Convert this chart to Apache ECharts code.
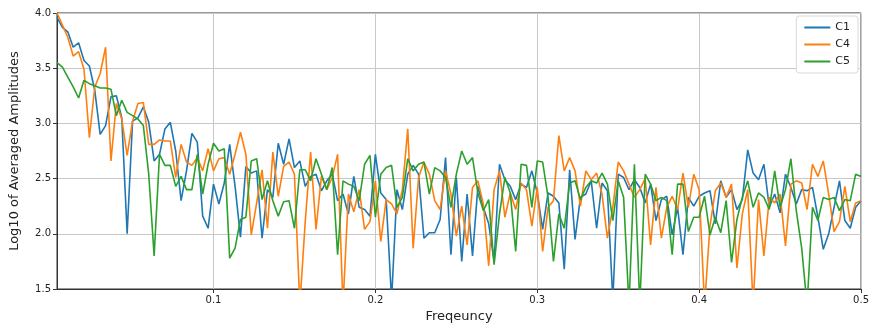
<!DOCTYPE html>
<html>
<head>
<meta charset="utf-8">
<title>Log10 of Averaged Amplitudes</title>
<script src="https://cdn.jsdelivr.net/npm/echarts@6/dist/echarts.min.js"></script>
<style>
    html, body { margin: 0; padding: 0; background: #fff; }
    #chartLine { width: 872px; height: 331px; }
</style>
</head>
<body>
<div id="chartLine"></div>
<script>
// values, one per frequency bin (k / 300, k = 1..150)
const c1 = [
    3.96, 3.87, 3.83, 3.69, 3.73, 3.57, 3.52, 3.30, 2.90, 2.98,
    3.24, 3.25, 3.05, 2.00, 3.02, 3.05, 3.15, 3.01, 2.66, 2.72,
    2.95, 3.01, 2.75, 2.30, 2.57, 2.91, 2.83, 2.16, 2.05, 2.45,
    2.27, 2.46, 2.81, 2.43, 1.97, 2.61, 2.55, 2.57, 1.96, 2.40,
    2.33, 2.82, 2.63, 2.86, 2.60, 2.66, 2.43, 2.52, 2.54, 2.39,
    2.48, 2.54, 2.30, 2.36, 2.18, 2.52, 2.24, 2.22, 2.16, 2.72,
    2.37, 2.31, 1.40, 2.40, 2.22, 2.54, 2.62, 2.54, 1.96, 2.01,
    2.01, 2.13, 2.69, 1.81, 2.51, 1.75, 2.36, 1.80, 2.43, 2.24,
    2.09, 1.75, 2.63, 2.49, 2.43, 2.31, 2.45, 2.42, 2.57, 2.37,
    2.04, 2.37, 2.34, 2.28, 1.68, 2.58, 1.95, 2.33, 2.36, 2.48,
    2.05, 2.46, 2.39, 1.40, 2.54, 2.51, 2.40, 2.49, 2.42, 2.28,
    2.45, 2.12, 2.31, 2.34, 1.99, 2.24, 1.81, 2.33, 2.25, 2.34,
    2.37, 2.39, 2.09, 2.48, 2.33, 2.40, 2.22, 2.31, 2.76, 2.55,
    2.49, 2.63, 2.24, 2.36, 2.19, 2.54, 2.42, 2.27, 2.40, 2.39,
    2.42, 2.15, 1.86, 2.00, 2.24, 2.48, 2.12, 2.05, 2.24, 2.30
];
const c4 = [
    4.00, 3.89, 3.78, 3.61, 3.65, 3.49, 2.87, 3.33, 3.45, 3.69,
    2.66, 3.18, 3.04, 2.71, 3.02, 3.18, 3.19, 2.81, 2.81, 2.85,
    2.84, 2.84, 2.51, 2.81, 2.65, 2.62, 2.69, 2.57, 2.77, 2.57,
    2.68, 2.69, 2.54, 2.72, 2.92, 2.72, 1.99, 2.28, 2.58, 2.05,
    2.74, 2.34, 2.61, 2.65, 2.54, 1.35, 2.11, 2.74, 2.04, 2.52,
    2.40, 2.51, 2.72, 1.35, 2.36, 2.20, 2.40, 2.04, 2.11, 2.48,
    1.93, 2.31, 2.27, 2.18, 2.40, 2.95, 1.87, 2.51, 2.65, 2.54,
    2.30, 2.22, 2.57, 2.36, 1.98, 2.25, 1.90, 2.42, 2.48, 2.27,
    1.71, 2.40, 2.57, 2.15, 2.37, 2.22, 2.46, 2.40, 2.07, 2.42,
    1.84, 2.24, 2.30, 2.89, 2.57, 2.69, 2.57, 2.25, 2.57, 2.49,
    2.55, 2.36, 1.96, 2.24, 2.65, 2.57, 2.45, 2.33, 2.40, 2.50,
    1.90, 2.42, 1.96, 2.24, 2.34, 2.22, 2.55, 2.24, 2.54, 2.40,
    1.35, 2.07, 2.39, 2.46, 2.33, 2.45, 1.69, 2.18, 2.40, 1.35,
    2.31, 1.80, 2.33, 2.28, 2.36, 1.89, 2.45, 2.48, 2.46, 2.22,
    2.63, 2.52, 2.66, 2.36, 2.02, 2.11, 2.43, 2.11, 2.28, 2.30
];
const c5 = [
    3.55, 3.51, 3.42, 3.33, 3.23, 3.39, 3.36, 3.34, 3.32, 3.32,
    3.31, 3.07, 3.21, 3.10, 3.07, 3.04, 2.98, 2.54, 1.80, 2.72,
    2.62, 2.62, 2.43, 2.52, 2.40, 2.40, 2.72, 2.36, 2.63, 2.82,
    2.75, 2.77, 1.78, 1.87, 2.13, 2.15, 2.66, 2.68, 2.31, 2.48,
    2.30, 2.16, 2.29, 2.30, 2.05, 2.58, 2.58, 2.48, 2.68, 2.54,
    2.40, 2.60, 1.81, 2.48, 2.45, 2.43, 2.30, 2.63, 2.71, 2.15,
    2.54, 2.60, 2.62, 2.24, 2.33, 2.68, 2.57, 2.63, 2.65, 2.36,
    2.60, 2.57, 2.51, 2.24, 2.54, 2.75, 2.63, 2.69, 2.37, 2.21,
    2.31, 1.72, 2.18, 2.51, 2.37, 1.84, 2.63, 2.62, 2.24, 2.66,
    2.65, 2.33, 1.75, 2.18, 2.05, 2.46, 2.48, 2.31, 2.42, 2.48,
    2.46, 2.55, 2.45, 2.12, 2.48, 2.33, 1.35, 2.63, 1.35, 2.54,
    2.45, 2.30, 2.33, 2.30, 1.81, 2.45, 2.45, 2.02, 2.15, 2.15,
    2.34, 1.99, 2.15, 2.01, 2.30, 1.74, 2.13, 2.33, 2.48, 2.24,
    2.37, 2.33, 2.22, 2.57, 2.24, 2.40, 2.68, 2.21, 1.87, 1.35,
    2.24, 2.12, 2.33, 2.31, 2.33, 2.21, 2.31, 2.30, 2.54, 2.52
];

// frequency bins and tick values
const freqs = c1.map((v, i) => (i + 1) / 300);
const xTicks = [0.1, 0.2, 0.3, 0.4, 0.5];
const seriesNames = ['C1', 'C4', 'C5'];
const colors = ['#1f77b4', '#ff7f0e', '#2ca02c'];

const pairs = (ys) => ys.map((y, i) => [freqs[i], y]);

const chartLine = echarts.init(document.getElementById('chartLine'));

const option = {
    animation: false,
    color: colors,
    textStyle: { fontFamily: 'DejaVu Sans' },
    grid: {
        left: 57,
        right: 9,
        top: 13,
        bottom: 42,
        show: true,
        borderColor: '#333',
        borderWidth: 1
    },
    legend: {
        orient: 'vertical',
        right: 14,
        top: 16,
        itemWidth: 26,
        itemHeight: 2,
        itemGap: 6,
        padding: [6, 8, 6, 8],
        borderColor: '#d8d8d8',
        borderWidth: 1,
        borderRadius: 3,
        backgroundColor: '#fff',
        icon: 'rect',
        textStyle: { fontSize: 11, color: '#222', fontFamily: 'DejaVu Sans' },
        data: seriesNames
    },
    xAxis: {
        type: 'value',
        min: freqs[0],
        max: 0.5,
        name: 'Freqeuncy',
        nameLocation: 'middle',
        nameGap: 21,
        nameTextStyle: { fontSize: 13, color: '#222' },
        axisLine: { onZero: false, lineStyle: { color: '#333' } },
        axisTick: { show: true, length: 4, customValues: xTicks, lineStyle: { color: '#333' } },
        axisLabel: {
            customValues: xTicks,
            fontSize: 10,
            color: '#222',
            margin: 6,
            formatter: (v) => String(Math.round(v * 10) / 10)
        },
        splitLine: { show: true, lineStyle: { color: '#c8c8c8', width: 1 } }
    },
    yAxis: {
        type: 'value',
        min: 1.5,
        max: 4.0,
        interval: 0.5,
        name: 'Log10 of Averaged Amplitudes',
        nameLocation: 'middle',
        nameGap: 36,
        nameTextStyle: { fontSize: 13, color: '#222' },
        axisLine: { show: true, lineStyle: { color: '#333' } },
        axisTick: { show: true, length: 4, lineStyle: { color: '#333' } },
        axisLabel: {
            fontSize: 10,
            color: '#222',
            margin: 6,
            formatter: (v) => v.toFixed(1)
        },
        splitLine: { show: true, lineStyle: { color: '#c8c8c8', width: 1 } }
    },
    series: [c1, c4, c5].map((ys, i) => ({
        name: seriesNames[i],
        type: 'line',
        data: pairs(ys),
        showSymbol: false,
        symbol: 'none',
        clip: true,
        lineStyle: { width: 1.6 }
    }))
};

chartLine.setOption(option);
</script>
</body>
</html>
